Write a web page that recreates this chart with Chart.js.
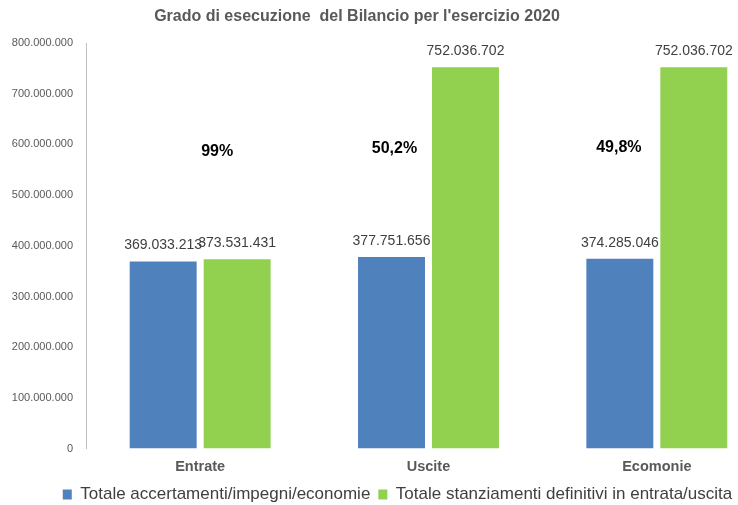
<!DOCTYPE html>
<html>
<head>
<meta charset="utf-8">
<script src="https://cdn.jsdelivr.net/npm/chart.js@4/dist/chart.umd.min.js"></script>
<style>
  html, body { margin: 0; padding: 0; background: #ffffff; overflow: hidden; }
  #wrap { position: relative; width: 796px; height: 513px; }
</style>
</head>
<body>
<div id="wrap"><canvas id="c"></canvas></div>
<script>
const categories = ['Entrate', 'Uscite', 'Ecomonie'];
const seriesNames = ['Totale accertamenti/impegni/economie', 'Totale stanziamenti definitivi in entrata/uscita'];
const accertamenti = [369033213, 377751656, 374285046];
const stanziamenti = [373531431, 752036702, 752036702];
const percentLabels = ['99%', '50,2%', '49,8%'];
const yTicks = [0, 100000000, 200000000, 300000000, 400000000, 500000000, 600000000, 700000000, 800000000];
const titleText = "Grado di esecuzione  del Bilancio per l'esercizio 2020";

// styling / placement (not data)
const FONT = '"Liberation Sans", Arial, sans-serif';
const pctOffsetX = [17, -34, -38];
const pctValueY = [586000000, 591000000, 594000000];
const LEGEND_SHIFT = 12;

function fmt(v) {
  return String(Math.round(v)).replace(/\B(?=(\d{3})+(?!\d))/g, '.');
}

const legendShift = {
  id: 'legendShift',
  afterLayout(chart) {
    if (chart.legend) {
      chart.legend.left += LEGEND_SHIFT;
      chart.legend.right += LEGEND_SHIFT;
    }
  }
};

const overlay = {
  id: 'overlay',
  afterDatasetsDraw(chart) {
    const ctx = chart.ctx;
    ctx.save();
    ctx.font = '14px ' + FONT;
    ctx.fillStyle = '#404040';
    ctx.textAlign = 'center';
    ctx.textBaseline = 'middle';
    chart.data.datasets.forEach((ds, di) => {
      const meta = chart.getDatasetMeta(di);
      meta.data.forEach((bar, i) => {
        ctx.fillText(fmt(ds.data[i]), bar.x, bar.y - 16);
      });
    });
    const xs = chart.scales.x, ys = chart.scales.y;
    ctx.font = 'bold 16px ' + FONT;
    ctx.fillStyle = '#000000';
    percentLabels.forEach((t, i) => {
      ctx.fillText(t, xs.getPixelForValue(i) + pctOffsetX[i], ys.getPixelForValue(pctValueY[i]));
    });
    ctx.font = 'bold 16px ' + FONT;
    ctx.fillStyle = '#595959';
    ctx.fillText(titleText, 357, 17);
    ctx.restore();
  }
};

new Chart(document.getElementById('c'), {
  type: 'bar',
  data: {
    labels: categories,
    datasets: [
      { label: seriesNames[0], data: accertamenti, backgroundColor: '#4F81BD', barPercentage: 0.905, categoryPercentage: 0.648 },
      { label: seriesNames[1], data: stanziamenti, backgroundColor: '#92D050', barPercentage: 0.905, categoryPercentage: 0.648 }
    ]
  },
  options: {
    responsive: true,
    maintainAspectRatio: false,
    animation: false,
    layout: { padding: { left: 0, right: 25, top: 43, bottom: 0 } },
    plugins: {
      title: { display: false },
      tooltip: { enabled: false },
      legend: {
        position: 'bottom',
        labels: {
          boxWidth: 9, boxHeight: 10, padding: 8,
          color: '#404040',
          font: { family: FONT, size: 17 }
        }
      }
    },
    scales: {
      x: {
        grid: { display: false },
        border: { display: false },
        ticks: { color: '#595959', padding: 2, font: { family: FONT, size: 14.5, weight: 'bold' } }
      },
      y: {
        min: 0, max: 800000000,
        afterBuildTicks(scale) { scale.ticks = yTicks.map(v => ({ value: v })); },
        afterFit(scale) { scale.width = 86; },
        grid: { display: false },
        border: { display: true, color: '#BFBFBF', width: 1 },
        ticks: { color: '#595959', padding: 5, font: { family: FONT, size: 11 }, callback: v => fmt(v) }
      }
    }
  },
  plugins: [legendShift, overlay]
});
</script>
</body>
</html>
